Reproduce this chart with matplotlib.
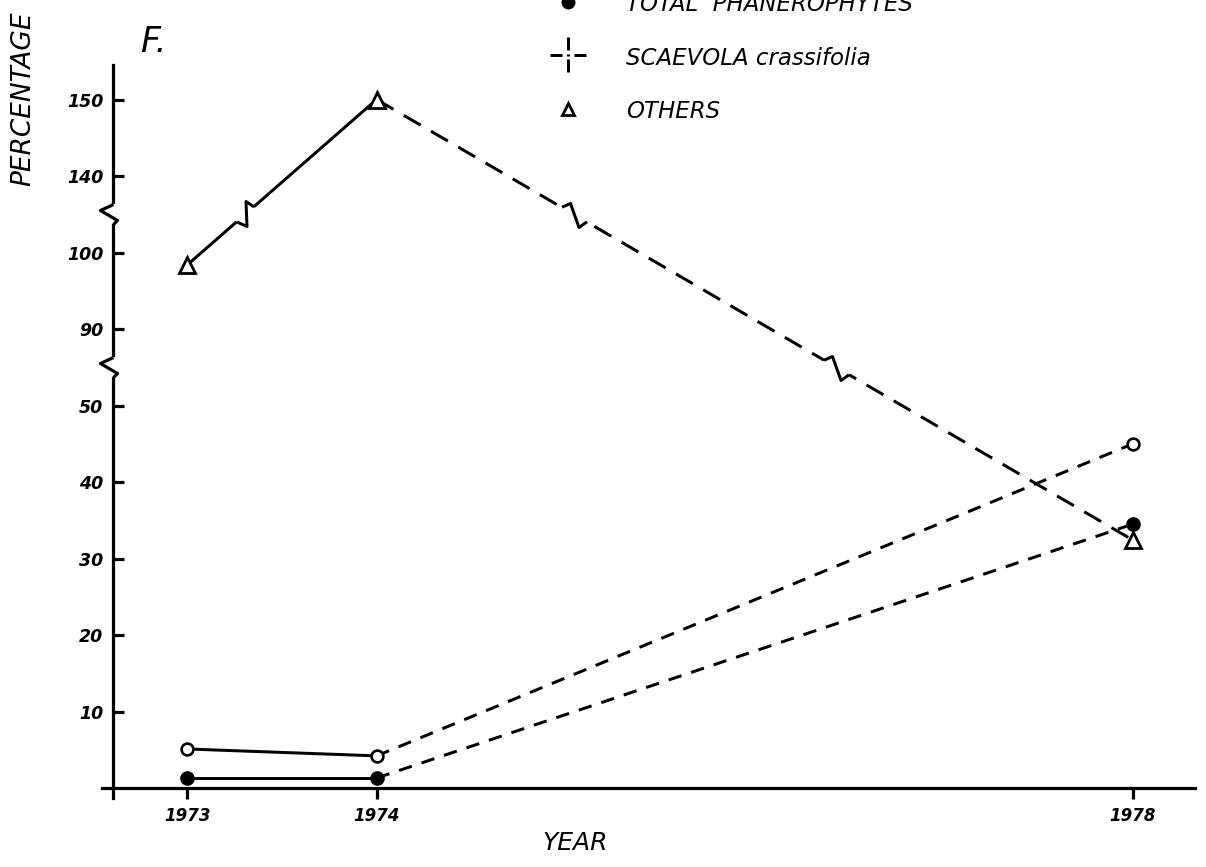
import numpy as np
import matplotlib
matplotlib.use("Agg")
import matplotlib.pyplot as plt
from matplotlib.path import Path
from matplotlib.lines import Line2D
from matplotlib.ticker import NullLocator

plt.rcParams["font.family"] = ["DejaVu Sans"]

DPI = 100
W, H = 1206, 867

# ---------------- data ----------------
years = [1973, 1974, 1978]
total_phanerophytes = [1.3, 1.3, 34.5]
scaevola_crassifolia = [5.1, 4.2, 45.0]
others = [98.4, 150.0, 32.4]

ytick_values = [10, 20, 30, 40, 50, 90, 100, 140, 150]
ytick_labels = [str(v) for v in ytick_values]
xtick_labels = ["1973", "1974", "1978"]
legend_labels = ["TOTAL  PHANEROPHYTES", "SCAEVOLA crassifolia", "OTHERS"]

# ---------------- broken-axis scale ----------------
KNOTS_V = [-1000, 0, 50, 90, 100, 140, 150, 1000]
KNOTS_D = [-100, 0, 5, 6, 7, 8, 9, 94]
BREAKS = [70, 120]


def fwd(y):
    return np.interp(np.asarray(y, float), KNOTS_V, KNOTS_D)


def inv(d):
    return np.interp(np.asarray(d, float), KNOTS_D, KNOTS_V)


def px2pt(p):
    return p * 72.0 / DPI


def glyph(verts, codes=None):
    v = np.asarray(verts, float)
    m = np.abs(v).max()
    return Path(v, codes), 2 * px2pt(m)


fig = plt.figure(figsize=(W / DPI, H / DPI), dpi=DPI)
ax = fig.add_axes([102 / W, 0, (1195 - 102) / W, 1])
ax.set_yscale("function", functions=(fwd, inv))
ax.set_xlim(1972.548, 1978.328)
ax.set_ylim(float(inv(-79 / 76.5)), float(inv(788 / 76.5)))
ax.patch.set_visible(False)

YAX_X = 1972.606
LW_AX = px2pt(3.2)
LW = px2pt(3.0)
for s in ["top", "right"]:
    ax.spines[s].set_visible(False)
ax.spines["left"].set_position(("data", YAX_X))
ax.spines["left"].set_bounds(-1.3, 154.5)
ax.spines["bottom"].set_position(("data", 0))
for s in ["left", "bottom"]:
    ax.spines[s].set_linewidth(LW_AX)

ax.set_yticks(ytick_values, ytick_labels)
ax.set_xticks(years, xtick_labels)
ax.yaxis.set_minor_locator(NullLocator())
ax.xaxis.set_minor_locator(NullLocator())
ax.tick_params(axis="y", direction="in", length=8, width=LW_AX, pad=7, labelsize=12.5)
ax.tick_params(axis="x", direction="out", length=8, width=LW_AX, pad=6, labelsize=12)
for lbl in ax.get_xticklabels() + ax.get_yticklabels():
    lbl.set_fontweight("bold")
    lbl.set_fontstyle("italic")

# ---------------- lines ----------------
for series, dash in [(total_phanerophytes, (4.5, 3.4)),
                     (scaevola_crassifolia, (4.5, 3.4)),
                     (others, (6.5, 4.0))]:
    ax.plot(years[:2], series[:2], color="k", lw=LW, solid_capstyle="round", zorder=3)
    ax.plot(years[1:], series[1:], color="k", lw=LW, linestyle=(0, dash),
            dash_capstyle="butt", zorder=3)

# break glyphs on the OTHERS line
down_zz, down_ms = glyph([(-12.5, 7.3), (-4, 11), (4.5, -13), (12.5, -7.3)])
down_er, down_ems = glyph([(-12.5, 7.3), (12.5, -7.3)])
up_zz, up_ms = glyph([(-8.5, -7.5), (1.5, -12), (0.5, 13), (8.5, 7.5)])
up_er, up_ems = glyph([(-8.5, -7.5), (8.5, 7.5)])
for i in range(len(years) - 1):
    d0, d1 = float(fwd(others[i])), float(fwd(others[i + 1]))
    for b in BREAKS:
        db = float(fwd(b))
        if (d0 - db) * (d1 - db) < 0:
            t = (db - d0) / (d1 - d0)
            xc = years[i] + t * (years[i + 1] - years[i])
            if d1 > d0:
                zz, ms, er, ems = up_zz, up_ms, up_er, up_ems
            else:
                zz, ms, er, ems = down_zz, down_ms, down_er, down_ems
            ax.plot([xc], [b], marker=er, ms=ems, mec="white", mfc="none",
                    mew=px2pt(7), zorder=4, clip_on=False)
            ax.plot([xc], [b], marker=zz, ms=ms, mec="k", mfc="none",
                    mew=LW, zorder=5, clip_on=False)

# break glyphs on the y axis
ax_zz, ax_ms = glyph([(0, 10), (-13, 4), (4, -6), (0, -10)])
ax_er, ax_ems = glyph([(0, 10), (0, -10)])
for b in BREAKS:
    ax.plot([YAX_X], [b], marker=ax_er, ms=ax_ems, mec="white", mfc="none",
            mew=px2pt(8), zorder=4, clip_on=False)
    ax.plot([YAX_X], [b], marker=ax_zz, ms=ax_ms, mec="k", mfc="none",
            mew=LW_AX, zorder=5, clip_on=False)

# ---------------- markers ----------------
ax.plot(years, total_phanerophytes, "o", ms=9.5, color="k", mew=1, zorder=6, clip_on=False)
ax.plot(years, scaevola_crassifolia, "o", ms=8.5, mfc="white", mec="k",
        mew=px2pt(2.6), zorder=6, clip_on=False)
ax.plot(years, others, "^", ms=11, mfc="white", mec="k",
        mew=px2pt(2.8), zorder=6, clip_on=False)

# ---------------- legend (drawn by hand) ----------------
def fx(x):
    return x / W


def fy(y):
    return 1 - y / H


cross_codes = [Path.MOVETO, Path.LINETO] * 5
cross, cross_ms = glyph([(-18, 0), (-6, 0), (6, 0), (18, 0),
                         (0, 18), (0, 5), (0, -4), (0, -17),
                         (0, 1), (0, -1)], cross_codes)

fig.add_artist(Line2D([fx(568)], [fy(2)], marker="o", ms=9, color="k",
                      transform=fig.transFigure))
fig.add_artist(Line2D([fx(568)], [fy(55)], marker=cross, ms=cross_ms, mec="k",
                      mfc="none", mew=LW, transform=fig.transFigure))
fig.add_artist(Line2D([fx(568)], [fy(109)], marker="^", ms=8.5, mfc="white", mec="k",
                      mew=px2pt(2.8), transform=fig.transFigure))
for lab, yb in zip(legend_labels, [11, 65, 118]):
    fig.text(fx(626), fy(yb), lab, fontsize=16.5, style="italic", ha="left", va="baseline")

# ---------------- labels ----------------
fig.text(fx(23), fy(99), "PERCENTAGE", rotation=90, fontsize=19, style="italic",
         ha="center", va="center")
fig.text(fx(575), fy(843), "YEAR", fontsize=18, style="italic", ha="center", va="center")
fig.text(fx(140), fy(52), "F.", fontsize=25, style="italic", ha="left", va="baseline")

fig.savefig("out.png", dpi=DPI, facecolor="white")
